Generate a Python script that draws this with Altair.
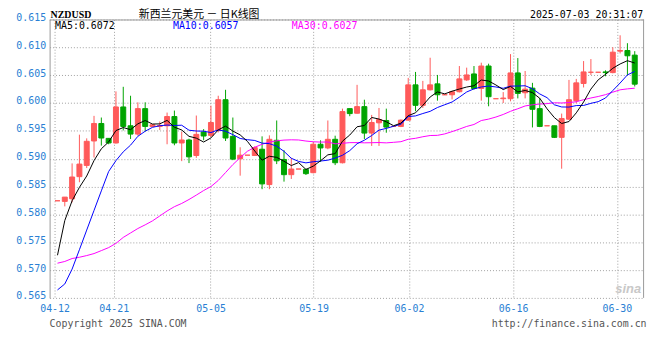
import altair as alt
import pandas as pd

opens = [0.58244, 0.58233, 0.58280, 0.58677, 0.58879, 0.59318, 0.59632, 0.59365, 0.59282, 0.59929,
         0.59591, 0.59442, 0.59899, 0.59579, 0.59579, 0.59591, 0.59757, 0.59282, 0.59336, 0.59057,
         0.59478, 0.59419, 0.59508, 0.60059, 0.59401, 0.58998, 0.59063, 0.59057, 0.59170, 0.58535,
         0.59330, 0.58986, 0.58713, 0.58814, 0.58808, 0.58749, 0.59259, 0.59193, 0.59348, 0.58927,
         0.59899, 0.59816, 0.59935, 0.59460, 0.59644, 0.59686, 0.59579, 0.59579, 0.59692, 0.60326,
         0.59958, 0.60237, 0.60344, 0.60148, 0.60148, 0.60202, 0.60415, 0.60522, 0.60261, 0.60664,
         0.60077, 0.60077, 0.60077, 0.60540, 0.60184, 0.60267, 0.59899, 0.59591, 0.59591, 0.59383,
         0.59709, 0.60042, 0.60350, 0.60552, 0.60552, 0.60558, 0.60546, 0.60931, 0.60943, 0.60860]
highs = [0.58244, 0.58310, 0.58915, 0.59431, 0.59365, 0.59769, 0.59739, 0.59371, 0.60208, 0.60291,
         0.60130, 0.60012, 0.60012, 0.59614, 0.59668, 0.59828, 0.59864, 0.59484, 0.59359, 0.59775,
         0.59531, 0.59953, 0.60130, 0.60237, 0.59739, 0.59205, 0.59063, 0.59223, 0.59401, 0.59419,
         0.59686, 0.59152, 0.59015, 0.58814, 0.58820, 0.59300, 0.59330, 0.59686, 0.59413, 0.59899,
         0.59899, 0.60326, 0.60059, 0.59786, 0.59911, 0.59899, 0.59579, 0.59703, 0.60451, 0.60558,
         0.60397, 0.60813, 0.60504, 0.60148, 0.60219, 0.60664, 0.60635, 0.60664, 0.60724, 0.60706,
         0.60077, 0.60196, 0.60878, 0.60807, 0.60575, 0.60362, 0.60089, 0.59591, 0.59591, 0.59810,
         0.60415, 0.60433, 0.60753, 0.60789, 0.60552, 0.60587, 0.61002, 0.61216, 0.61074, 0.60931]
lows = [0.58244, 0.58144, 0.58215, 0.58577, 0.58832, 0.59021, 0.59235, 0.59259, 0.59271, 0.59508,
        0.59354, 0.59413, 0.59490, 0.59567, 0.59514, 0.59259, 0.59241, 0.58956, 0.58921, 0.59015,
        0.59330, 0.59389, 0.59472, 0.59318, 0.58974, 0.58695, 0.59063, 0.59051, 0.58452, 0.58452,
        0.58903, 0.58588, 0.58636, 0.58814, 0.58707, 0.58737, 0.58944, 0.59170, 0.58885, 0.58915,
        0.59763, 0.59810, 0.59354, 0.59229, 0.59229, 0.59466, 0.59579, 0.59567, 0.59686, 0.59852,
        0.59911, 0.60225, 0.60042, 0.60148, 0.60065, 0.60190, 0.60397, 0.60243, 0.60042, 0.59941,
        0.60077, 0.60000, 0.60030, 0.60083, 0.60083, 0.59561, 0.59567, 0.59591, 0.59371, 0.58820,
        0.59698, 0.59994, 0.60279, 0.60504, 0.60552, 0.60480, 0.60534, 0.60890, 0.60498, 0.60297]
closes = [0.58244, 0.58310, 0.58671, 0.58903, 0.59312, 0.59632, 0.59371, 0.59282, 0.59929, 0.59579,
          0.59442, 0.59899, 0.59579, 0.59609, 0.59597, 0.59757, 0.59282, 0.59336, 0.59033, 0.59437,
          0.59407, 0.59650, 0.60059, 0.59371, 0.58992, 0.59063, 0.59063, 0.59199, 0.58547, 0.59348,
          0.58962, 0.58713, 0.58814, 0.58814, 0.58731, 0.59259, 0.59193, 0.59348, 0.58927, 0.59846,
          0.59810, 0.59935, 0.59460, 0.59650, 0.59703, 0.59567, 0.59579, 0.59692, 0.60326, 0.59958,
          0.60237, 0.60326, 0.60148, 0.60148, 0.60202, 0.60433, 0.60504, 0.60261, 0.60664, 0.60113,
          0.60077, 0.60089, 0.60540, 0.60172, 0.60249, 0.59887, 0.59579, 0.59591, 0.59383, 0.59721,
          0.60059, 0.60362, 0.60558, 0.60552, 0.60552, 0.60546, 0.60913, 0.60943, 0.60848, 0.60338]

ma5 = [0.57266, 0.57889, 0.58244, 0.58485, 0.58689, 0.58966, 0.59178, 0.59300, 0.59505, 0.59559,
       0.59521, 0.59626, 0.59686, 0.59622, 0.59625, 0.59688, 0.59565, 0.59516, 0.59401, 0.59369,
       0.59299, 0.59373, 0.59517, 0.59585, 0.59496, 0.59427, 0.59310, 0.59138, 0.58973, 0.59044,
       0.59024, 0.58954, 0.58877, 0.58930, 0.58807, 0.58866, 0.58962, 0.59069, 0.59091, 0.59314,
       0.59425, 0.59573, 0.59596, 0.59740, 0.59712, 0.59663, 0.59592, 0.59638, 0.59773, 0.59824,
       0.59958, 0.60108, 0.60199, 0.60164, 0.60212, 0.60251, 0.60287, 0.60310, 0.60413, 0.60395,
       0.60324, 0.60241, 0.60297, 0.60198, 0.60225, 0.60187, 0.60085, 0.59896, 0.59738, 0.59632,
       0.59667, 0.59823, 0.60017, 0.60250, 0.60416, 0.60514, 0.60624, 0.60701, 0.60760, 0.60718]
ma10 = [0.56643, 0.56750, 0.57017, 0.57365, 0.57718, 0.58070, 0.58422, 0.58769, 0.58965, 0.59123,
        0.59243, 0.59402, 0.59493, 0.59563, 0.59592, 0.59604, 0.59596, 0.59601, 0.59511, 0.59497,
        0.59494, 0.59469, 0.59517, 0.59493, 0.59432, 0.59363, 0.59341, 0.59327, 0.59279, 0.59270,
        0.59225, 0.59132, 0.59007, 0.58951, 0.58925, 0.58945, 0.58958, 0.58973, 0.59011, 0.59061,
        0.59145, 0.59268, 0.59332, 0.59416, 0.59513, 0.59544, 0.59582, 0.59617, 0.59757, 0.59768,
        0.59811, 0.59850, 0.59919, 0.59969, 0.60018, 0.60105, 0.60198, 0.60254, 0.60288, 0.60304,
        0.60288, 0.60264, 0.60303, 0.60305, 0.60310, 0.60256, 0.60163, 0.60096, 0.59968, 0.59929,
        0.59927, 0.59954, 0.59956, 0.59994, 0.60024, 0.60090, 0.60224, 0.60359, 0.60505, 0.60567]
ma30 = [0.57123, 0.57154, 0.57207, 0.57230, 0.57260, 0.57296, 0.57349, 0.57403, 0.57479, 0.57586,
        0.57666, 0.57746, 0.57812, 0.57883, 0.57972, 0.58061, 0.58138, 0.58196, 0.58267, 0.58346,
        0.58428, 0.58499, 0.58609, 0.58751, 0.58894, 0.59018, 0.59134, 0.59205, 0.59259, 0.59297,
        0.59321, 0.59334, 0.59339, 0.59336, 0.59317, 0.59304, 0.59298, 0.59300, 0.59267, 0.59276,
        0.59288, 0.59289, 0.59285, 0.59287, 0.59290, 0.59284, 0.59294, 0.59305, 0.59349, 0.59366,
        0.59394, 0.59416, 0.59419, 0.59445, 0.59486, 0.59531, 0.59579, 0.59614, 0.59685, 0.59711,
        0.59748, 0.59794, 0.59851, 0.59897, 0.59947, 0.59968, 0.59981, 0.59989, 0.60004, 0.60000,
        0.60008, 0.60023, 0.60059, 0.60090, 0.60117, 0.60150, 0.60195, 0.60237, 0.60254, 0.60266]

tick_labels = ["04-12", "04-21", "05-05", "05-19", "06-02", "06-16", "06-30"]
tick_pos = [-0.4, 7.7, 20.95, 35.05, 48.1, 62.35, 76.55]
y_ticks = [0.565, 0.570, 0.575, 0.580, 0.585, 0.590, 0.595, 0.600, 0.605, 0.610, 0.615]

UP = "#ff5a5a"
DOWN = "#00a400"
AXIS_BLUE = "#2a7fd4"
GRID = "#a0a0a0"
FRAME = "#999999"
MONO = "DejaVu Sans Mono"
W, H = 600, 281

n = len(opens)
df = pd.DataFrame({"i": list(range(n)), "open": opens, "high": highs, "low": lows, "close": closes})
df["dir"] = ["up" if c >= o else "down" for o, c in zip(opens, closes)]
df["lo"] = [min(o, c) for o, c in zip(opens, closes)]
df["hi"] = [max(o, c) for o, c in zip(opens, closes)]

# label expression for date ticks
expr = f"'{tick_labels[-1]}'"
for k in range(len(tick_pos) - 2, -1, -1):
    expr = f"(datum.value < {(tick_pos[k] + tick_pos[k + 1]) / 2} ? '{tick_labels[k]}' : {expr})"

xs = alt.Scale(domain=[-0.4, n - 0.4], nice=False, zero=False)
ys = alt.Scale(domain=[0.565, 0.615], nice=False, zero=False)
cs = alt.Scale(domain=["up", "down"], range=[UP, DOWN])

x_axis = alt.Axis(values=tick_pos, labelExpr=expr, grid=True, gridColor=GRID, gridDash=[1, 2],
                  domain=False, ticks=False, labelColor=AXIS_BLUE, labelFont=MONO, labelFontSize=10,
                  labelPadding=6, labelFlush=False, labelOverlap=False, title=None)
y_axis = alt.Axis(values=y_ticks, format=".3f", grid=True, gridColor=GRID, gridDash=[1, 2],
                  domain=True, domainColor=FRAME, domainWidth=1, ticks=False,
                  labelColor=AXIS_BLUE, labelFont=MONO, labelFontSize=10, labelPadding=4,
                  labelOffset=-2, labelOverlap=False, labelFlush=False, title=None)


def X(field):
    return alt.X(field, scale=xs, axis=x_axis)


def Y(field):
    return alt.Y(field, scale=ys, axis=y_axis)


base = alt.Chart(df)
wicks = base.mark_rule(strokeWidth=1).encode(
    x=X("i:Q"), y=Y("low:Q"), y2="high:Q",
    color=alt.Color("dir:N", scale=cs, legend=None),
)
bodies = base.mark_bar(size=5, strokeWidth=1).encode(
    x=X("i:Q"), y=Y("lo:Q"), y2="hi:Q",
    color=alt.Color("dir:N", scale=cs, legend=None),
    stroke=alt.Stroke("dir:N", scale=cs, legend=None),
)

ma_df = pd.DataFrame({"i": list(range(n)), "ma5": ma5, "ma10": ma10, "ma30": ma30})
ma_base = alt.Chart(ma_df)
line30 = ma_base.mark_line(strokeWidth=1, color="#ff00ff").encode(x=X("i:Q"), y=Y("ma30:Q"))
line10 = ma_base.mark_line(strokeWidth=1, color="#0000ff").encode(x=X("i:Q"), y=Y("ma10:Q"))
line5 = ma_base.mark_line(strokeWidth=1, color="#000000").encode(x=X("i:Q"), y=Y("ma5:Q"))

one = pd.DataFrame({"k": [0]})
top_rule = alt.Chart(one).mark_rule(color=FRAME, strokeWidth=1).encode(
    x=alt.value(0), x2=alt.value(W), y=alt.value(0.5))
right_rule = alt.Chart(one).mark_rule(color=FRAME, strokeWidth=1).encode(
    x=alt.value(W - 0.5), y=alt.value(0), y2=alt.value(H))


def label(text, x, y, color="#000000", size=10, font=MONO, align="left", weight="normal", style="normal"):
    return alt.Chart(pd.DataFrame({"t": [text]})).mark_text(
        align=align, baseline="middle", font=font, fontSize=size, color=color,
        fontWeight=weight, fontStyle=style,
    ).encode(text="t:N", x=alt.value(x), y=alt.value(y))


texts = [
    label("NZDUSD", 1, -5, size=10, font="Liberation Serif", weight="bold"),
    label("新西兰元美元 － 日K线图", 90, -4.6, size=11, font="Noto Sans CJK SC"),
    label("2025-07-03 20:31:07", 599, -5, size=10, align="right"),
    label("MA5:0.6072", 5.5, 6.5, color="#000000"),
    label("MA10:0.6057", 124.5, 6.5, color="#0000ff"),
    label("MA30:0.6027", 244.5, 6.5, color="#ff00ff"),
    label("Copyright 2025 SINA.COM", 0, 307, color="#555555"),
    label("http://finance.sina.com.cn", 602.5, 307, color="#555555", align="right"),
    label("sina", 584, 272, color="#c8c8c8", size=13, font="Liberation Sans", weight="bold",
          style="italic", align="center"),
]

chart = alt.layer(wicks, bodies, line30, line10, line5, top_rule, right_rule, *texts).properties(
    width=W, height=H,
    autosize="none",
    padding={"left": 42, "top": 10, "right": 8, "bottom": 50},
).configure_view(stroke=None)

chart.save("out.html", embed_options={"renderer": "svg", "actions": False})
